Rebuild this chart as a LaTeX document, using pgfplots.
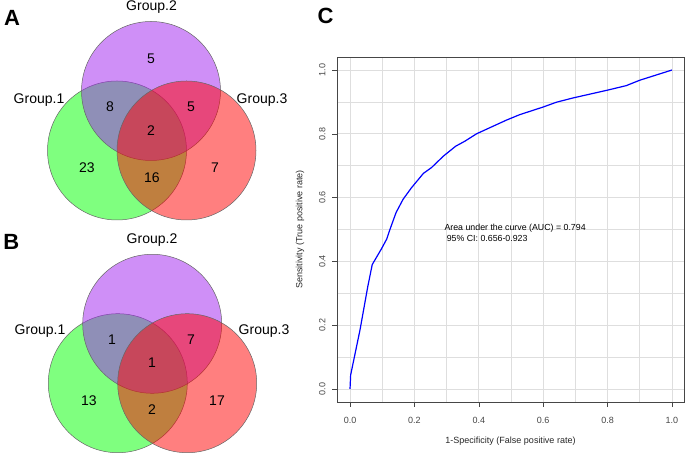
\documentclass[border=0pt]{standalone}
\usepackage{fontspec}
\setmainfont{Liberation Sans}
\usepackage{pgfplots}
\pgfplotsset{compat=1.18}
\definecolor{vgreen}{RGB}{0,255,0}
\definecolor{vpurple}{RGB}{160,32,240}
\definecolor{vred}{RGB}{255,0,0}
\definecolor{gridgray}{RGB}{222,222,222}
\definecolor{axgray}{RGB}{70,70,70}
\pgfplotsset{vennax/.style={at={(0pt,0pt)}, anchor=south west, scale only axis,
  width=290pt, height=454pt, xmin=0, xmax=290, ymin=0, ymax=454,
  hide axis, clip=false}}
\begin{document}
\begin{tikzpicture}
\useasboundingbox (0pt,0pt) rectangle (685pt,454pt);
% ---------------- Venn diagrams (A and B) ----------------
\begin{axis}[vennax]
\addplot[only marks, mark=*, mark size=69.5pt,
  mark options={fill=vgreen, fill opacity=0.5, draw=black!60, draw opacity=1, line width=0.5pt}]
  coordinates {(117,303.5) (117.8,70.8)};
\addplot[only marks, mark=*, mark size=69.5pt,
  mark options={fill=vpurple, fill opacity=0.5, draw=black!60, draw opacity=1, line width=0.5pt}]
  coordinates {(151,363) (152.2,130.2)};
\addplot[only marks, mark=*, mark size=69.5pt,
  mark options={fill=vred, fill opacity=0.5, draw=black!60, draw opacity=1, line width=0.5pt}]
  coordinates {(186.5,303.5) (187.2,70.8)};
\end{axis}
\begin{axis}[vennax]
\begin{scope}[every node/.style={font=\fontsize{14}{14}\selectfont, inner sep=0pt, text=black, text opacity=1}]
\node at (axis cs:151.5,447) {Group.2};
\node at (axis cs:39,354) {Group.1};
\node at (axis cs:262,354) {Group.3};
\node at (axis cs:151,395) {5};
\node at (axis cs:110,347) {8};
\node at (axis cs:191,347) {5};
\node at (axis cs:151,323) {2};
\node at (axis cs:87,286) {23};
\node at (axis cs:152,276) {16};
\node at (axis cs:215,286) {7};
\node at (axis cs:152,214) {Group.2};
\node at (axis cs:40,123) {Group.1};
\node at (axis cs:264,123) {Group.3};
\node at (axis cs:112,114) {1};
\node at (axis cs:191,114) {7};
\node at (axis cs:152,91) {1};
\node at (axis cs:89,53) {13};
\node at (axis cs:152,44) {2};
\node at (axis cs:217,53) {17};
\end{scope}
\begin{scope}[every node/.style={font=\bfseries\fontsize{22}{22}\selectfont, inner sep=0pt}]
\node at (axis cs:12,436.5) {A};
\node at (axis cs:11.3,212) {B};
\node at (axis cs:325.5,438) {C};
\end{scope}
\end{axis}
% ---------------- ROC curve (C) ----------------
\begin{axis}[at={(337pt,52pt)}, anchor=south west, scale only axis,
  width=347pt, height=345pt,
  xmin=-0.0404, xmax=1.0373, ymin=-0.0408, ymax=1.0408,
  xtick={0,0.2,0.4,0.6,0.8,1}, ytick={0,0.2,0.4,0.6,0.8,1},
  xticklabels={0.0,0.2,0.4,0.6,0.8,1.0},
  yticklabels={0.0,0.2,0.4,0.6,0.8,1.0},
  minor tick num=1, grid=both,
  grid style={gridgray, line width=0.8pt},
  minor grid style={gridgray, line width=0.8pt},
  xtick pos=bottom, ytick pos=left, tick align=outside,
  major tick length=5pt, minor tick length=0pt,
  axis line style={axgray, line width=0.8pt},
  major tick style={axgray, line width=0.6pt},
  /pgf/number format/assume math mode=true,
  ticklabel style={font=\fontsize{9}{9}\selectfont, text=axgray},
  yticklabel style={rotate=90, anchor=south},
  xticklabel shift=7pt, yticklabel shift=3pt,
  xlabel={1-Specificity (False positive rate)},
  ylabel={Sensitivity (True positive rate)},
  label style={font=\fontsize{9}{9}\selectfont, text=black!85},
  xlabel style={at={(axis description cs:0.5,-0.113)}, anchor=center},
  ylabel style={at={(axis description cs:-0.1066,0.5)}, anchor=center},
]
\addplot[blue, line width=1.2pt] coordinates {
(0,0) (0.002,0.044) (0.031,0.185) (0.055,0.32) (0.069,0.39) (0.098,0.44)
(0.114,0.47) (0.124,0.50) (0.143,0.553) (0.165,0.595) (0.191,0.631)
(0.228,0.676) (0.253,0.694) (0.29,0.73) (0.328,0.761) (0.357,0.777)
(0.393,0.8) (0.434,0.819) (0.486,0.843) (0.527,0.86) (0.6,0.884)
(0.641,0.899) (0.693,0.9125) (0.796,0.936) (0.858,0.951) (0.9,0.968) (1,1)
};
\node[anchor=west, inner sep=0pt, font=\fontsize{8.8}{9}\selectfont] at (axis cs:0.293,0.504) {Area under the curve (AUC) = 0.794};
\node[anchor=west, inner sep=0pt, font=\fontsize{8.8}{9}\selectfont] at (axis cs:0.300,0.472) {95\% CI: 0.656-0.923};
\end{axis}
\end{tikzpicture}
\end{document}
